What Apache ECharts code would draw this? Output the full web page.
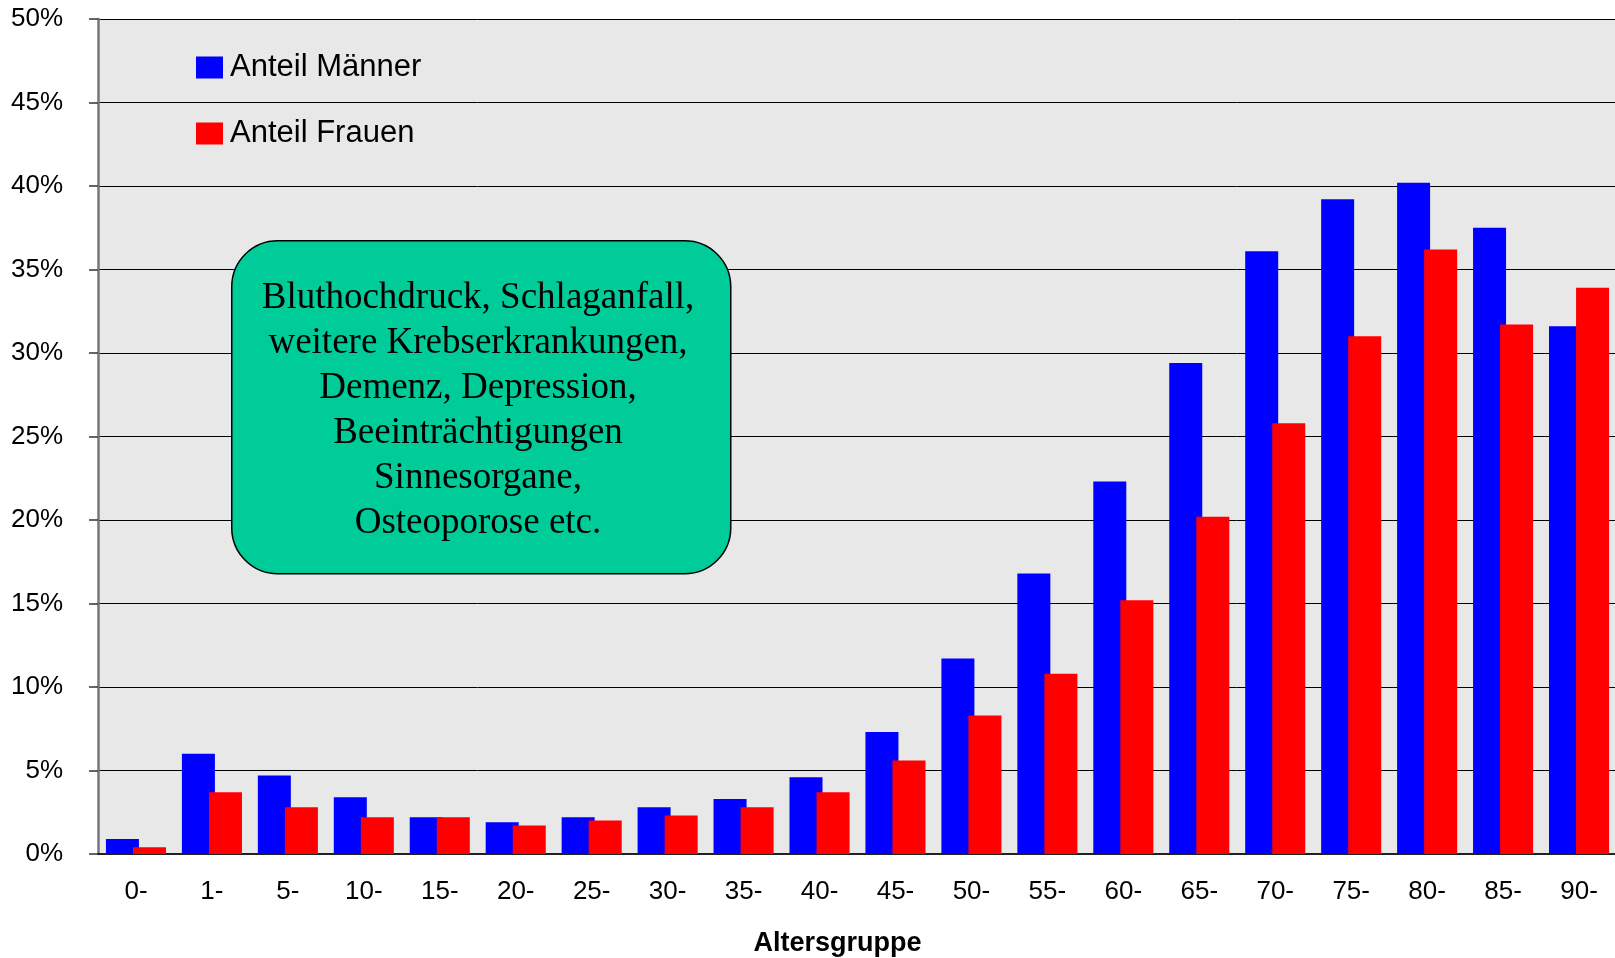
<!DOCTYPE html>
<html>
<head>
<meta charset="utf-8">
<script src="https://cdn.jsdelivr.net/npm/echarts@6/dist/echarts.min.js"></script>
<style>
html,body{margin:0;padding:0;background:#fff}
#chart{width:1615px;height:958px}
</style>
</head>
<body>
<div id="chart"></div>
<script>
var ageGroups = ['0-','1-','5-','10-','15-','20-','25-','30-','35-','40-',
  '45-','50-','55-','60-','65-','70-','75-','80-','85-','90-']
var men = [0.9,6.0,4.7,3.4,2.2,1.9,2.2,2.8,3.3,4.6,
  7.3,11.7,16.8,22.3,29.4,36.1,39.2,40.2,37.5,31.6]
var women = [0.4,3.7,2.8,2.2,2.2,1.7,2.0,2.3,2.8,3.7,
  5.6,8.3,10.8,15.2,20.2,25.8,31.0,36.2,31.7,33.9]
var noteLines = ['Bluthochdruck, Schlaganfall,', 'weitere Krebserkrankungen,',
  'Demenz, Depression,', 'Beeinträchtigungen', 'Sinnesorgane,', 'Osteoporose etc.']

var chart = echarts.init(document.getElementById('chart'))
chart.setOption({
  animation: false,
  textStyle: { fontFamily: 'Liberation Sans, Arial, sans-serif' },
  grid: {
    left: 98, top: 19, right: -2, bottom: 104,
    outerBoundsMode: 'none',
    show: true, backgroundColor: '#e8e8e8', borderWidth: 0
  },
  legend: {
    orient: 'vertical', left: 196, top: 52, padding: 0,
    itemWidth: 27, itemHeight: 22, itemGap: 35,
    icon: 'rect',
    textStyle: { fontSize: 31, color: '#000', padding: [0, 0, 0, 2] },
    data: ['Anteil Männer', 'Anteil Frauen']
  },
  xAxis: {
    type: 'category',
    data: ageGroups,
    name: 'Altersgruppe',
    nameLocation: 'middle',
    nameGap: 76,
    nameTextStyle: { fontSize: 27, fontWeight: 'bold', color: '#000', padding: [0, 40, 0, 0] },
    axisLine: { lineStyle: { color: '#222', width: 2 } },
    axisTick: { length: 8, lineStyle: { color: '#333', width: 1.5 } },
    axisLabel: { fontSize: 26, color: '#000', margin: 25 }
  },
  yAxis: {
    type: 'value',
    min: 0, max: 50, interval: 5,
    axisLine: { show: true, lineStyle: { color: '#777', width: 2.5 } },
    axisTick: { show: true, length: 9, lineStyle: { color: '#333', width: 1.5 } },
    axisLabel: { fontSize: 26, color: '#000', margin: 35, formatter: '{value}%' },
    splitLine: { lineStyle: { color: '#000', width: 1 } }
  },
  series: [
    { name: 'Anteil Männer', type: 'bar', data: men, barWidth: 33, barGap: '-18%',
      itemStyle: { color: '#0000ff' } },
    { name: 'Anteil Frauen', type: 'bar', data: women, barWidth: 33,
      itemStyle: { color: '#ff0000' } }
  ],
  graphic: [
    { type: 'rect', left: 231, top: 240, z: 100,
      shape: { width: 499, height: 333, r: 46 },
      style: { fill: '#00cc99', stroke: '#000', lineWidth: 1.5 } },
    { type: 'text', x: 478, y: 411, z: 101,
      style: {
        text: noteLines.join('\n'),
        font: '37px "Liberation Serif", "Times New Roman", serif',
        fill: '#000', align: 'center', verticalAlign: 'middle', lineHeight: 45
      } }
  ]
})
</script>
</body>
</html>
